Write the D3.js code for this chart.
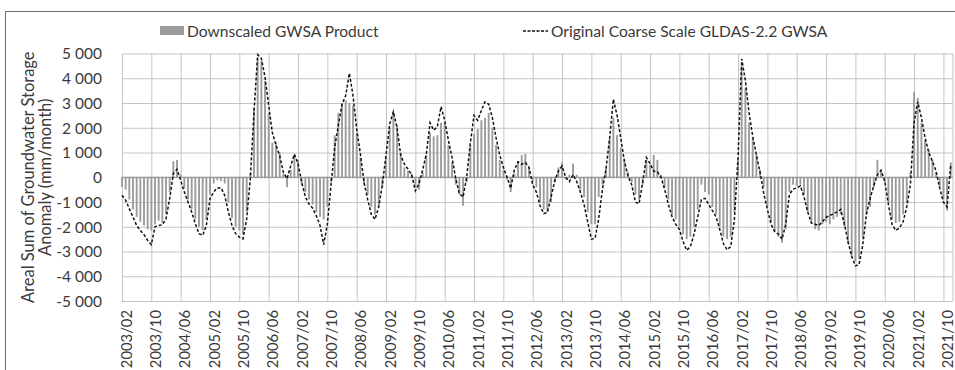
<!DOCTYPE html>
<html>
<head>
<meta charset="utf-8">
<script src="https://cdn.jsdelivr.net/npm/d3@7"></script>
<style>
  html, body { margin: 0; padding: 0; background: #fff; }
  svg { display: block; font-family: Lato, "Open Sans", sans-serif; }
</style>
</head>
<body>
<svg id="chart" width="955" height="370"></svg>
<script>
// Monthly series, 2003/02 – 2021/12
const startYear = 2003, startMonth = 2, monthCount = 227;
const months = d3.range(monthCount).map(i => {
  const m = startMonth - 1 + i;
  const y = startYear + Math.floor(m / 12);
  return y + "/" + String((m % 12) + 1).padStart(2, "0");
});

// Downscaled GWSA product (bars)
const downscaled = [
  -400, -500, -900, -1300, -1600, -1800, -1950, -2100, -2150, -1900,
  -1750, -1850, -1500, -600, 650, 700, 100, -450, -900, -1300,
  -1700, -2000, -2150, -1700, -700, -250, -120, -150, -250, -1000,
  -1650, -2000, -2150, -2300, -1400, 150, 2800, 4800, 4700, 3900,
  2600, 1400, 1400, 1000, 150, -400, 300, 900, 700, -300,
  -600, -900, -1100, -1400, -1600, -1700, -1200, -200, 1700, 2600,
  3000, 3100, 3000, 2900, 1800, 800, -300, -700, -1200, -1500,
  -1200, -400, 800, 2000, 2600, 2100, 1000, 400, 250, 150,
  -400, -500, 200, 900, 1800, 1650, 1700, 2200, 2200, 1300,
  600, -300, -700, -1150, -200, 1300, 1750, 1950, 2300, 2400,
  2600, 2000, 1300, 700, 300, -100, -600, 150, 650, 900,
  950, 400, -200, -400, -1000, -1300, -1400, -1000, -200, 400,
  600, -100, 100, 550, 100, -500, -800, -1400, -1900, -1900,
  -800, -300, 400, 1600, 2400, 1700, 1200, 700, 200, -200,
  -700, -900, -300, 700, 500, 900, 700, 100, -400, -900,
  -1500, -1700, -2000, -2300, -2500, -2400, -2000, -1300, -300, -600,
  -700, -1200, -1500, -2000, -2400, -2500, -2400, -1400, 700, 4500,
  3600, 2200, 1600, 900, 300, -400, -1200, -1800, -2200, -2400,
  -2650, -2100, -600, -300, -350, -300, -700, -1400, -1800, -2100,
  -2150, -1900, -1800, -1900, -1700, -1600, -1500, -2000, -2700, -3200,
  -3400, -3300, -2500, -1500, -1200, -400, 700, 300, -200, -1000,
  -1700, -1850, -1800, -1500, -1000, 200, 3450, 3200, 2200, 1500,
  1100, 700, 200, -400, -900, -1350, 600
];

// Original coarse-scale GLDAS-2.2 GWSA (dashed line)
const gldas = [
  -730, -930, -1270, -1610, -1950, -2150, -2320, -2550, -2720, -2000,
  -1950, -1920, -1680, -860, 150, 320, -120, -600, -1000, -1400,
  -1880, -2280, -2350, -1950, -860, -600, -430, -430, -730, -1400,
  -1950, -2280, -2420, -2490, -1680, -50, 2650, 4950, 4800, 4050,
  2900, 1800, 1300, 870, 200, -50, 450, 930, 550, -200,
  -800, -1080, -1250, -1560, -1950, -2720, -1900, -320, 1200, 2100,
  2950, 3300, 4200, 3300, 1950, 950, -200, -900, -1500, -1700,
  -1200, -300, 900, 2150, 2650, 2000, 890, 530, 330, 100,
  -550, -250, 300, 950, 2200, 1900, 2050, 2850, 2300, 1500,
  800, -50, -650, -800, 0, 1400, 2500, 2300, 2700, 3050,
  2950, 2400, 1600, 900, 400, 0, -450, 300, 620, 520,
  600, 400, -300, -600, -1150, -1470, -1420, -800, -150, 250,
  450, 0, -180, 100, -170, -600, -1100, -1800, -2500, -2470,
  -1680, -500, 350, 1600, 3150, 2500, 1600, 650, 50, -300,
  -1000, -1070, -200, 800, 550, 250, 220, 0, -500, -1100,
  -1600, -1900, -2100, -2600, -2950, -2800, -2300, -1600, -900, -850,
  -1100, -1350, -1600, -2100, -2680, -2930, -2800, -1700, 800, 4780,
  3900, 2600, 1650, 900, 200, -650, -1300, -1900, -2200, -2300,
  -2500, -1900, -700, -480, -430, -350, -800, -1400, -1850, -1900,
  -1950, -1800, -1620, -1550, -1480, -1400, -1300, -1900, -2600, -3200,
  -3580, -3520, -2750, -1500, -860, -350, 100, 280, -150, -1100,
  -1900, -2150, -2050, -1800, -1200, -300, 2200, 3050, 2400, 1600,
  1000, 650, 250, -450, -1000, -1200, 500
];

const yTicks = [5000, 4000, 3000, 2000, 1000, 0, -1000, -2000, -3000, -4000, -5000];
const xTickLabels = [
  "2003/02", "2003/10", "2004/06", "2005/02", "2005/10", "2006/06", "2007/02", "2007/10",
  "2008/06", "2009/02", "2009/10", "2010/06", "2011/02", "2011/10", "2012/06", "2013/02",
  "2013/10", "2014/06", "2015/02", "2015/10", "2016/06", "2017/02", "2017/10", "2018/06",
  "2019/02", "2019/10", "2020/06", "2021/02", "2021/10"
];
const legendLabels = ["Downscaled GWSA Product", "Original Coarse Scale GLDAS-2.2 GWSA"];

const svg = d3.select("#chart");
const plot = { left: 122, right: 953, top: 53.5, bottom: 301 };
const monthStep = 3.667;

const x = d3.scalePoint()
  .domain(months)
  .range([plot.left, plot.left + monthStep * (monthCount - 1)]);
const y = d3.scaleLinear().domain([-5000, 5000]).range([plot.bottom, plot.top]);

const textColor = "#3a3a3a";
const gridColor = "#c4c4c4";

// outer chart border
svg.append("rect")
  .attr("x", 5.5).attr("y", 11.5)
  .attr("width", 960).attr("height", 400)
  .attr("fill", "none").attr("stroke", "#6e6e6e").attr("stroke-width", 1);

// horizontal gridlines + y tick labels
const yAxis = d3.axisLeft(y)
  .tickValues(yTicks)
  .tickSize(-(plot.right - plot.left))
  .tickFormat(d => d3.format(",")(d).replace(/,/g, " ").replace("−", "-"));
const gy = svg.append("g").attr("transform", `translate(${plot.left},0)`).call(yAxis);
gy.select(".domain").remove();
gy.selectAll(".tick line").attr("stroke", gridColor).attr("stroke-width", 1);
gy.selectAll(".tick text")
  .attr("x", -20).attr("dy", "0.35em")
  .attr("fill", textColor).style("font-size", "15.5px").style("font-family", "Lato");

// vertical gridlines every 8 months
const xAxis = d3.axisBottom(x)
  .tickValues(xTickLabels)
  .tickSize(-(plot.bottom - plot.top))
  .tickFormat("");
const gx = svg.append("g").attr("transform", `translate(0,${plot.bottom})`).call(xAxis);
gx.select(".domain").remove();
gx.selectAll(".tick line").attr("stroke", gridColor).attr("stroke-width", 1);

// right edge of the plot area
svg.append("line")
  .attr("x1", plot.right).attr("x2", plot.right)
  .attr("y1", plot.top).attr("y2", plot.bottom)
  .attr("stroke", gridColor);

// rotated x tick labels
svg.append("g").selectAll("text")
  .data(xTickLabels)
  .join("text")
  .attr("transform", d => `translate(${x(d) + 4.5},310) rotate(-90)`)
  .attr("dy", "0.35em")
  .attr("text-anchor", "end")
  .attr("fill", textColor)
  .style("font-size", "14.8px")
  .text(d => d);

// bars
const barW = 1.9;
svg.append("g").selectAll("rect")
  .data(downscaled)
  .join("rect")
  .attr("x", (d, i) => x(months[i]) - barW / 2)
  .attr("y", d => y(Math.max(0, d)))
  .attr("width", barW)
  .attr("height", d => Math.abs(y(d) - y(0)))
  .attr("fill", "#9c9c9c");

// zero axis line
svg.append("line")
  .attr("x1", plot.left).attr("x2", plot.right)
  .attr("y1", y(0)).attr("y2", y(0))
  .attr("stroke", "#8a8a8a").attr("stroke-width", 1);

// dashed GLDAS line
const line = d3.line()
  .x((d, i) => x(months[i]))
  .y(d => y(d));
svg.append("path")
  .datum(gldas)
  .attr("d", line)
  .attr("fill", "none")
  .attr("stroke", "#111")
  .attr("stroke-width", 1.5)
  .attr("stroke-dasharray", "3,2");

// y axis title
const yTitle = svg.append("text")
  .attr("transform", `translate(0,${(plot.top + plot.bottom) / 2}) rotate(-90)`)
  .attr("text-anchor", "middle")
  .attr("fill", textColor)
  .style("font-size", "16.5px");
yTitle.append("tspan").attr("x", 0).attr("y", 28).attr("dy", "0.35em").text("Areal Sum of Groundwater Storage");
yTitle.append("tspan").attr("x", 0).attr("y", 45).attr("dy", "0.35em").text("Anomaly (mm/month)");

// legend
const legend = svg.append("g");
legend.append("rect")
  .attr("x", 160).attr("y", 26).attr("width", 24).attr("height", 9)
  .attr("fill", "#9c9c9c");
legend.append("text")
  .attr("x", 187).attr("y", 36.5)
  .attr("fill", textColor).style("font-size", "15.6px")
  .text(legendLabels[0]);
legend.append("line")
  .attr("x1", 523).attr("x2", 548).attr("y1", 31).attr("y2", 31)
  .attr("stroke", "#111").attr("stroke-width", 1.3).attr("stroke-dasharray", "3,1.5");
legend.append("text")
  .attr("x", 551).attr("y", 36.5)
  .attr("fill", textColor).style("font-size", "15.6px")
  .text(legendLabels[1]);
</script>
</body>
</html>
